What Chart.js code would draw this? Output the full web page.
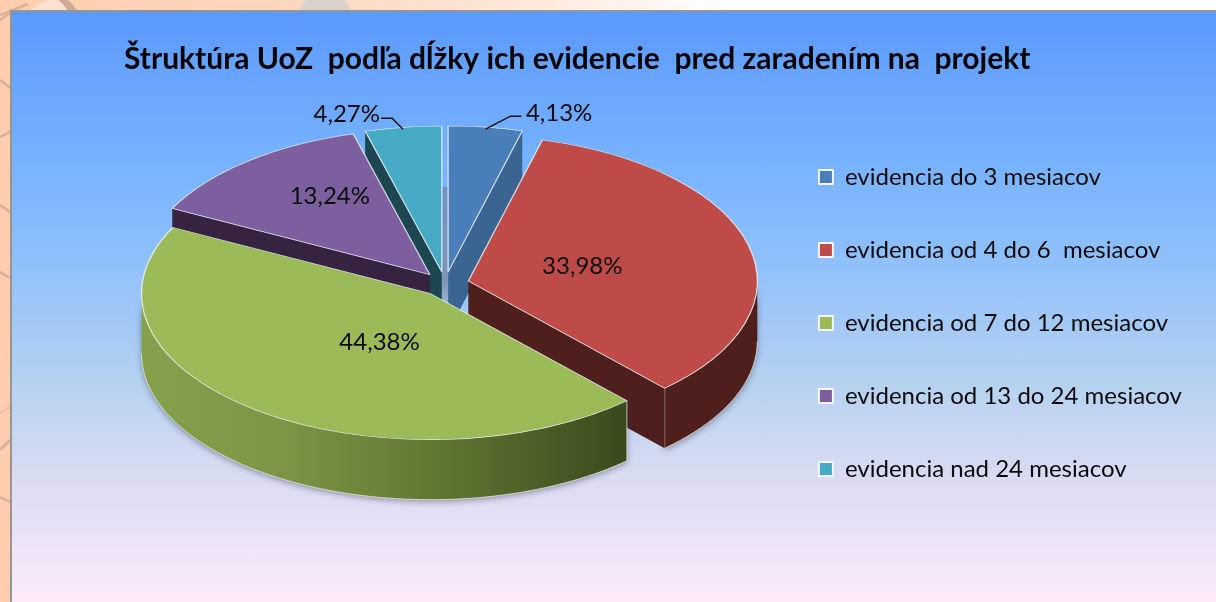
<!DOCTYPE html>
<html>
<head>
<meta charset="utf-8">
<style>
html,body{margin:0;padding:0;width:1216px;height:602px;overflow:hidden;background:linear-gradient(90deg,#fdcdad 0%,#fdd6bd 22%,#fde6d8 42%,#ffffff 60%,#ffffff 100%);}
#panel{position:absolute;left:10px;top:10px;width:1206px;height:592px;box-sizing:border-box;border-left:2px solid #969696;border-top:2px solid #969696;
background:linear-gradient(180deg,#5a9aff 0%,#77b2ff 25%,#8fc0fb 42%,#b6d2f0 63%,#dcdcf2 80%,#fcebfb 100%);}
#deco{position:absolute;left:0;top:0;}
canvas{position:absolute;left:0;top:0;}
</style>
</head>
<body>
<svg id="deco" width="1216" height="602" fill="none" stroke="#c9a592" stroke-width="2.5">
<path d="M0 20 L10 13 M0 80 L10 88 M0 137 L10 132 M0 205 L10 212 M0 272 L10 278 M0 450 L10 440 M0 497 L10 502" opacity=".75"/>
<path d="M0 413 L10 407" opacity=".35"/>
<path d="M30 10 Q42 0 50 0 L62 0 Q68 4 75 10 Z" fill="#fbe3d4" stroke="none"/>
<path d="M58 0 L68 0 Q74 5 76 10 L67 10 Q64 4 58 0 Z" fill="#cfa994" stroke="none"/>
<path d="M0 15 L28 4" opacity=".7"/>
<path d="M300 10 Q303 0 308 0 L345 0 Q349 4 350 10 Z" fill="#d9d1cb" stroke="none"/>
</svg>
<div id="panel"></div>
<canvas id="c" width="1216" height="602"></canvas>
<script src="https://cdn.jsdelivr.net/npm/chart.js@4/dist/chart.umd.min.js"></script>
<script>
const categories = ['evidencia do 3 mesiacov','evidencia od 4 do 6  mesiacov','evidencia od 7 do 12 mesiacov','evidencia od 13 do 24 mesiacov','evidencia nad 24 mesiacov'];
const shares = [4.13,33.98,44.38,13.24,4.27];
const topColors = ['#4a7ebb','#be4b48','#9bbb59','#7d5f9f','#46aac4'];
const wallColors = ['#3b6591','#4f1f1e','#3c4a1e','#35233f','#1c4650'];
const chartTitle = 'Štruktúra UoZ  podľa dĺžky ich evidencie  pred zaradením na  projekt';

// Painter's order of the exploded slices: back first, green last.
const paintOrder = [0,4,3,1,2];
// Projection of the tilted pie on the page.
const RX = 289, RY = 146, DEPTH = 60, CX = 445, CY = 284, EXPLODE = 24;
// Label anchor relative to each slice's apex.
const labelShift = [[111,-159],[114,-15],[-51,49],[-100,-78],[-95,-158]];
// Leader elbow relative to the rim midpoint of a slice (only outer labels).
const leaders = {0:[[25,-11],[36,-11]],4:[[-11,-9],[-22,-9]]};

function view(chart){
  const a = chart.getDatasetMeta(0).data[0];
  return {a, sx:RX/a.outerRadius, sy:RY/a.outerRadius};
}
function project(arc, sx, sy, angle, r){
  const mid=(arc.startAngle+arc.endAngle)/2;
  return [CX+Math.cos(mid)*EXPLODE+Math.cos(angle)*r*sx, CY+Math.sin(mid)*EXPLODE*RY/RX+Math.sin(angle)*r*sy];
}
const pie3d = {
  id:'pie3d',
  beforeDatasetDraw(chart){
    const {ctx}=chart, meta=chart.getDatasetMeta(0), {sx,sy}=view(chart);
    // far wall seen through the gap between the first and the last slice
    {
      const b=project(meta.data[0],sx,sy,meta.data[0].startAngle,0), t=project(meta.data[4],sx,sy,meta.data[4].endAngle,0);
      const g=ctx.createLinearGradient(0,b[1]-85,0,b[1]+40);
      g.addColorStop(0,'#6f93c4');g.addColorStop(.75,'#7c96b8');g.addColorStop(1,'#a9bdd6');
      ctx.fillStyle=g;ctx.fillRect(t[0],b[1]-85,b[0]-t[0],125);
    }
    for(const i of paintOrder){
      const arc=meta.data[i], R=arc.outerRadius;
      const s=arc.startAngle, e=arc.endAngle;
      ctx.save();
      ctx.lineWidth=1; ctx.strokeStyle='rgba(235,235,225,.75)'; ctx.fillStyle=wallColors[i];
      // rim: the front-facing part of the outer arc
      const from=Math.max(s,0), to=Math.min(e,Math.PI);
      if(to>from){
        const steps=80; const pts=[];
        for(let k=0;k<=steps;k++){pts.push(project(arc,sx,sy,from+(to-from)*k/steps,R));}
        ctx.beginPath();
        pts.forEach((p,k)=>k?ctx.lineTo(p[0],p[1]):ctx.moveTo(p[0],p[1]));
        pts.slice().reverse().forEach(p=>ctx.lineTo(p[0],p[1]+DEPTH));
        ctx.closePath();
        if(i===2){
          const g=ctx.createLinearGradient(pts[pts.length-1][0],0,pts[0][0],0);
          g.addColorStop(0,'#85a14c');g.addColorStop(.3,'#7b9545');g.addColorStop(.62,'#5f7632');g.addColorStop(1,'#3a491c');
          ctx.fillStyle=g;
        }
        ctx.save();
        ctx.shadowColor='rgba(40,40,60,.45)';ctx.shadowBlur=6;ctx.shadowOffsetY=2;
        ctx.fill();
        ctx.restore();
        ctx.beginPath();
        pts.forEach((p,k)=>k?ctx.lineTo(p[0],p[1]+DEPTH):ctx.moveTo(p[0],p[1]+DEPTH));
        ctx.stroke();
        const last=pts[pts.length-1], first=pts[0];
        ctx.beginPath();
        if(i===2){ctx.moveTo(first[0],first[1]);ctx.lineTo(first[0],first[1]+DEPTH);}
        if(i===1){ctx.moveTo(last[0],last[1]);ctx.lineTo(last[0],last[1]+DEPTH);}
        ctx.stroke();
      }
      // cut faces that look towards the viewer
      const faces=[];
      if(Math.cos(s)<-1e-6) faces.push(s);
      if(Math.cos(e)>1e-6) faces.push(e);
      for(const ang of faces){
        const p=project(arc,sx,sy,ang,0), q=project(arc,sx,sy,ang,R);
        ctx.fillStyle=wallColors[i];
        ctx.beginPath();ctx.moveTo(p[0],p[1]);ctx.lineTo(q[0],q[1]);ctx.lineTo(q[0],q[1]+DEPTH);ctx.lineTo(p[0],p[1]+DEPTH);ctx.closePath();ctx.fill();
      }
      ctx.restore();
      // the slice itself, drawn by the library's arc element under the projection
      const apex=project(arc,sx,sy,0,0);
      ctx.save();
      ctx.translate(apex[0],apex[1]);ctx.scale(sx,sy);ctx.translate(-arc.x,-arc.y);
      arc.draw(ctx);
      ctx.restore();
    }
    // labels and leaders
    ctx.save();
    ctx.font='24px Lato, sans-serif';ctx.fillStyle='#0a0a0a';ctx.textAlign='center';ctx.textBaseline='middle';
    meta.data.forEach((arc,i)=>{
      const apex=project(arc,sx,sy,0,0);
      const txt=shares[i].toFixed(2).replace('.',',')+'%';
      ctx.fillText(txt,apex[0]+labelShift[i][0],apex[1]+labelShift[i][1]);
      if(leaders[i]){
        const mid=(arc.startAngle+arc.endAngle)/2, rim=project(arc,sx,sy,mid,arc.outerRadius);
        ctx.strokeStyle='#111';ctx.lineWidth=1.5;ctx.beginPath();
        ctx.moveTo(rim[0],rim[1]+2);
        leaders[i].forEach(d=>ctx.lineTo(rim[0]+d[0],rim[1]+d[1]));
        ctx.stroke();
      }
    });
    ctx.restore();
    return false;
  }
};
Chart.defaults.font.family='Lato, sans-serif';
new Chart(document.getElementById('c'),{
  type:'pie',
  plugins:[pie3d],
  data:{labels:categories,datasets:[{
    data:shares,backgroundColor:topColors,borderColor:'rgba(240,245,250,.8)',borderWidth:1.2,borderJoinStyle:'round',clip:false
  }]},
  options:{
    responsive:false,animation:false,rotation:0,
    layout:{padding:{left:124,right:24,top:44,bottom:0}},
    plugins:{
      tooltip:{enabled:false},
      title:{display:true,text:chartTitle,align:'start',color:'#050505',padding:{top:-3,bottom:10},font:{family:'Lato, sans-serif',size:30,weight:'bold'}},
      legend:{position:'right',align:'center',labels:{color:'#0a0a0a',boxWidth:14,boxHeight:14,padding:49,font:{size:24,family:'Lato, sans-serif'},
        generateLabels(chart){
          return Chart.overrides.pie.plugins.legend.labels.generateLabels(chart).map(l=>({...l,strokeStyle:'#f4f7fa',lineWidth:2}));
        }}}
    }
  }
});
</script>
</body>
</html>
